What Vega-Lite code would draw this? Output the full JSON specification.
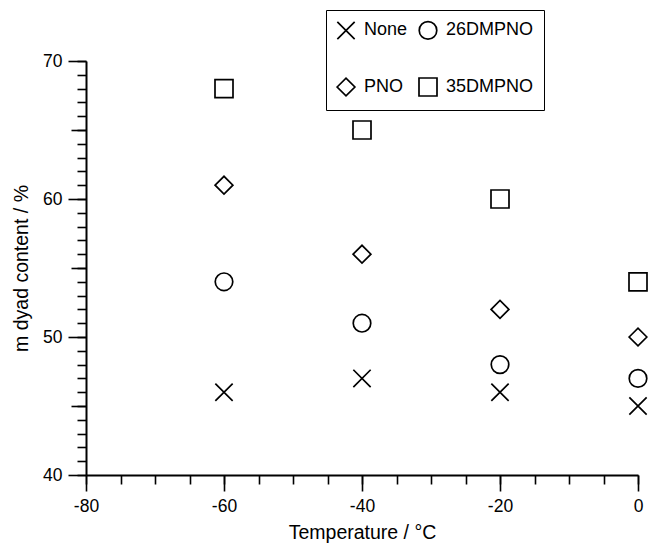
{
  "$schema": "https://vega.github.io/schema/vega-lite/v6.json",
  "width": 552,
  "height": 414,
  "autosize": {"type": "none"},
  "padding": {"left": 86, "top": 61, "right": 10, "bottom": 69},
  "background": "white",
  "config": {
    "view": {"stroke": null},
    "font": "Liberation Sans",
    "axis": {
      "grid": false,
      "domainColor": "black",
      "domainWidth": 2,
      "tickColor": "black",
      "tickWidth": 1.6,
      "labelColor": "black",
      "labelFontSize": 17.5,
      "titleColor": "black",
      "titleFontSize": 19.5,
      "titleFontWeight": "normal",
      "labelOverlap": false,
      "labelFlush": false,
      "labelBound": false
    }
  },
  "data": {
    "values": [
      {"temperature": -60, "content": 46, "series": "None"},
      {"temperature": -40, "content": 47, "series": "None"},
      {"temperature": -20, "content": 46, "series": "None"},
      {"temperature": 0, "content": 45, "series": "None"},
      {"temperature": -60, "content": 54, "series": "26DMPNO"},
      {"temperature": -40, "content": 51, "series": "26DMPNO"},
      {"temperature": -20, "content": 48, "series": "26DMPNO"},
      {"temperature": 0, "content": 47, "series": "26DMPNO"},
      {"temperature": -60, "content": 61, "series": "PNO"},
      {"temperature": -40, "content": 56, "series": "PNO"},
      {"temperature": -20, "content": 52, "series": "PNO"},
      {"temperature": 0, "content": 50, "series": "PNO"},
      {"temperature": -60, "content": 68, "series": "35DMPNO"},
      {"temperature": -40, "content": 65, "series": "35DMPNO"},
      {"temperature": -20, "content": 60, "series": "35DMPNO"},
      {"temperature": 0, "content": 54, "series": "35DMPNO"}
    ]
  },
  "resolve": {"axis": {"x": "independent", "y": "independent"}},
  "layer": [
    {
      "mark": {"type": "point", "opacity": 0},
      "encoding": {
        "x": {
          "field": "temperature",
          "type": "quantitative",
          "scale": {"domain": [-80, 0], "nice": false, "zero": false},
          "axis": {
            "orient": "bottom",
            "title": null,
            "labels": false,
            "domain": false,
            "values": [-80, -75, -70, -65, -60, -55, -50, -45, -40, -35, -30, -25, -20, -15, -10, -5, 0],
            "tickSize": 9
          }
        },
        "y": {
          "field": "content",
          "type": "quantitative",
          "scale": {"domain": [40, 70], "nice": false, "zero": false},
          "axis": {
            "orient": "left",
            "title": null,
            "labels": false,
            "domain": false,
            "values": [40, 41, 42, 43, 44, 45, 46, 47, 48, 49, 50, 51, 52, 53, 54, 55, 56, 57, 58, 59, 60, 61, 62, 63, 64, 65, 66, 67, 68, 69, 70],
            "tickSize": 9
          }
        }
      }
    },
    {
      "mark": {"type": "point", "opacity": 0},
      "encoding": {
        "x": {"field": "temperature", "type": "quantitative", "axis": null},
        "y": {
          "field": "content",
          "type": "quantitative",
          "axis": {
            "orient": "left",
            "title": null,
            "labels": false,
            "domain": false,
            "values": [45, 55, 65],
            "tickSize": 15
          }
        }
      }
    },
    {
      "mark": {"type": "point", "filled": false, "color": "black", "strokeWidth": 1.7, "opacity": 1, "clip": false},
      "encoding": {
        "x": {
          "field": "temperature",
          "type": "quantitative",
          "axis": {
            "orient": "bottom",
            "title": "Temperature / °C",
            "values": [-80, -60, -40, -20, 0],
            "labelExpr": "'' + datum.value",
            "tickSize": 16,
            "labelPadding": 6,
            "titlePadding": 9
          }
        },
        "y": {
          "field": "content",
          "type": "quantitative",
          "axis": {
            "orient": "left",
            "title": "m dyad content / %",
            "values": [40, 50, 60, 70],
            "labelExpr": "'' + datum.value",
            "tickSize": 18,
            "labelPadding": 6,
            "titlePadding": 11
          }
        },
        "shape": {
          "field": "series",
          "type": "nominal",
          "scale": {
            "domain": ["None", "26DMPNO", "PNO", "35DMPNO"],
            "range": ["M-1,-1L1,1M-1,1L1,-1", "circle", "diamond", "square"]
          },
          "legend": {
            "title": null,
            "orient": "none",
            "direction": "horizontal",
            "legendX": 240,
            "legendY": -51,
            "columns": 2,
            "strokeColor": "black",
            "padding": 10,
            "fillColor": "white",
            "labelFontSize": 18,
            "labelColor": "black",
            "labelOffset": 8,
            "symbolStrokeColor": "black",
            "symbolStrokeWidth": 1.7,
            "symbolFillColor": "transparent",
            "rowPadding": 31,
            "columnPadding": 7,
            "encode": {"legend": {"update": {"strokeWidth": {"value": 2}}}}
          }
        },
        "size": {
          "field": "series",
          "type": "nominal",
          "scale": {
            "domain": ["None", "26DMPNO", "PNO", "35DMPNO"],
            "range": [300, 324, 240, 289]
          },
          "legend": {
            "title": null,
            "orient": "none",
            "direction": "horizontal",
            "legendX": 240,
            "legendY": -51,
            "columns": 2,
            "strokeColor": "black",
            "padding": 10,
            "fillColor": "white",
            "labelFontSize": 18,
            "labelColor": "black",
            "labelOffset": 8,
            "symbolStrokeColor": "black",
            "symbolStrokeWidth": 1.7,
            "symbolFillColor": "transparent",
            "rowPadding": 31,
            "columnPadding": 7,
            "encode": {"legend": {"update": {"strokeWidth": {"value": 2}}}}
          }
        }
      }
    }
  ]
}
